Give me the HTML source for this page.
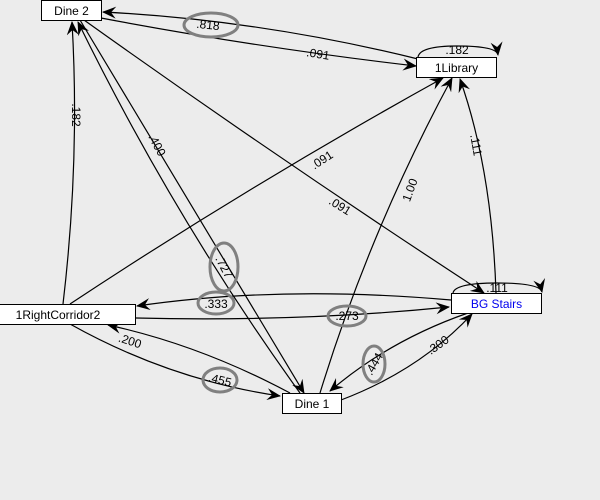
<!DOCTYPE html>
<html><head><meta charset="utf-8"><style>
html,body{margin:0;padding:0;background:#ececec;}
svg{display:block;font-family:"Liberation Sans",sans-serif;}
</style></head><body>
<svg width="600" height="500" viewBox="0 0 600 500">
<defs>
<marker id="a" viewBox="0 0 14 12" refX="13" refY="6" markerWidth="14" markerHeight="12" markerUnits="userSpaceOnUse" orient="auto">
<path d="M0,0 L14,6 L0,12 L5,6 z" fill="#000"/>
</marker>
</defs>
<rect width="600" height="500" fill="#ececec"/>
<g fill="none" stroke="#000" stroke-width="1.2" marker-end="url(#a)">
<path d="M418,59 Q260,20 103,12"/>
<path d="M101,18 Q260,48 416,66"/>
<path d="M63,304 Q80,160 72,22"/>
<path d="M300,393 Q175,220 78,22"/>
<path d="M80,20 Q200,220 304,393"/>
<path d="M84,20 Q280,160 484,293"/>
<path d="M70,304 Q250,185 443,78"/>
<path d="M320,393 Q370,230 452,78"/>
<path d="M496,293 Q492,170 460,79"/>
<path d="M451,300 Q280,285 137,306"/>
<path d="M136,318 Q300,322 449,307"/>
<path d="M290,393 Q200,345 108,325"/>
<path d="M70,324 Q170,380 280,396"/>
<path d="M468,313 Q390,340 330,391"/>
<path d="M341,400 Q420,370 472,314"/>
<path d="M418,57 Q420,46 457,46 Q497,46 498,55"/>
<path d="M453,293 Q455,283 497,283 Q540,283 542,292"/>
</g>
<g fill="none" stroke="#808080" stroke-width="3">
<ellipse cx="211" cy="25" rx="27" ry="12"/>
<ellipse cx="224" cy="267" rx="14" ry="24"/>
<ellipse cx="216" cy="303" rx="18" ry="11"/>
<ellipse cx="347" cy="316" rx="19" ry="10"/>
<ellipse cx="220" cy="380" rx="17" ry="12"/>
<ellipse cx="374" cy="364" rx="11" ry="18"/>
</g>
<g font-size="12" fill="#000" text-anchor="middle">
<text x="208" y="29" transform="rotate(6 208 25)">.818</text>
<text x="318" y="58" transform="rotate(9 318 54)">.091</text>
<text x="76" y="119" transform="rotate(90 76 115)">.182</text>
<text x="157" y="149" transform="rotate(62 157 145)">.400</text>
<text x="224" y="271" transform="rotate(62 224 267)">.727</text>
<text x="340" y="210" transform="rotate(32 340 206)">.091</text>
<text x="322" y="164" transform="rotate(-33 322 160)">.091</text>
<text x="410" y="194" transform="rotate(-70 410 190)">1.00</text>
<text x="476" y="149" transform="rotate(80 476 145)">.111</text>
<text x="216" y="308">.333</text>
<text x="347" y="320">.273</text>
<text x="130" y="345" transform="rotate(18 130 341)">.200</text>
<text x="220" y="384" transform="rotate(14 220 380)">.455</text>
<text x="374" y="368" transform="rotate(-60 374 364)">.444</text>
<text x="438" y="349" transform="rotate(-35 438 345)">.300</text>
<text x="457" y="54">.182</text>
<text x="497" y="292">.111</text>
</g>
<g stroke="#000" stroke-width="1" fill="#fff">
<rect x="41.5" y="0.5" width="60" height="20"/>
<rect x="416.5" y="57.5" width="80" height="20"/>
<rect x="451.5" y="293.5" width="90" height="20"/>
<rect x="-1.5" y="304.5" width="137" height="20"/>
<rect x="282.5" y="393.5" width="59" height="20"/>
</g>
<g font-size="12" text-anchor="middle" fill="#000">
<text x="71.5" y="15">Dine 2</text>
<text x="456.5" y="72">1Library</text>
<text x="496.5" y="308" fill="#0000ee">BG Stairs</text>
<text x="58" y="319">1RightCorridor2</text>
<text x="312" y="408">Dine 1</text>
</g>
</svg>
</body></html>
